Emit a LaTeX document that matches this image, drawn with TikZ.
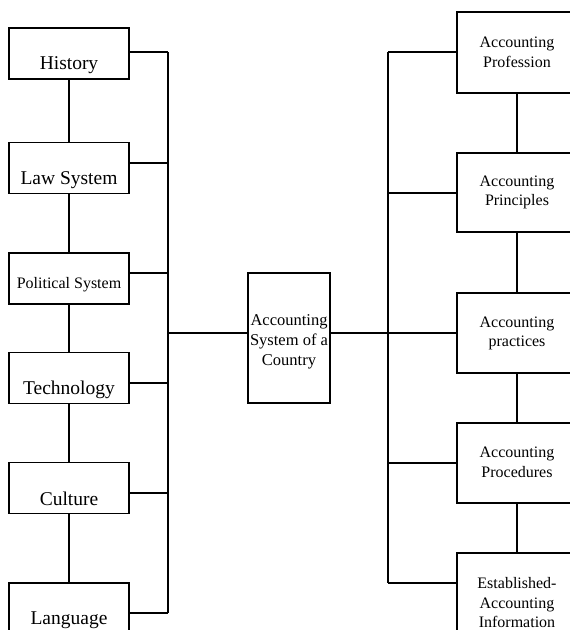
\documentclass[tikz,border=0pt]{standalone}
\usepackage{fontspec}
\setmainfont{Liberation Serif}
\begin{document}
\begin{tikzpicture}[x=1pt,y=-1pt,
  every path/.style={line width=1.4pt},
  lbox/.style={draw,line width=1.4pt,minimum width=120pt,minimum height=51pt,inner sep=0pt},
  rbox/.style={draw,line width=1.4pt,minimum width=120pt,minimum height=80pt,inner sep=0pt},
  bigtxt/.style={font=\fontsize{19.5}{22}\selectfont,inner sep=0pt},
  smtxt/.style={font=\fontsize{16}{19.5}\selectfont,inner sep=0pt,align=center},
  conn/.style={draw,line width=1.4pt}]
\useasboundingbox (0,0) rectangle (570,630);
\fill[white] (0,0) rectangle (570,630);
% left column boxes
\node[lbox] (hist) at (69,53.5) {};
\node[lbox] (law) at (69,168) {};
\node[lbox] (pol) at (69,278.5) {};
\node[lbox] (tech) at (69,378) {};
\node[lbox] (cult) at (69,488) {};
\node[lbox,minimum height=70pt] (lang) at (69,618) {};
\node[bigtxt] (thist) at (69,65) {History};
\node[bigtxt] (tlaw) at (69,180) {Law System};
\node[smtxt] (tpol) at (69,285) {Political System};
\node[bigtxt] (ttech) at (69,390) {Technology};
\node[bigtxt] (tcult) at (69,499) {Culture};
\node[bigtxt] (tlang) at (69,620) {Language};
% left vertical chain
\draw (hist.south) -- (law.north);
\draw (law.south) -- (pol.north);
\draw (pol.south) -- (tech.north);
\draw (tech.south) -- (cult.north);
\draw (cult.south) -- (lang.north);
% left bus
\coordinate (lb1) at (168,52);
\coordinate (lb2) at (168,163);
\coordinate (lb3) at (168,273);
\coordinate (lb4) at (168,383);
\coordinate (lb5) at (168,493);
\coordinate (lb6) at (168,613);
\coordinate (lbc) at (168,333);
\draw (lb1) -- (lb6);
\draw (hist.east |- lb1) -- (lb1);
\draw (law.east |- lb2) -- (lb2);
\draw (pol.east |- lb3) -- (lb3);
\draw (tech.east |- lb4) -- (lb4);
\draw (cult.east |- lb5) -- (lb5);
\draw (lang.east |- lb6) -- (lb6);
% centre box
\node[draw,line width=1.4pt,minimum width=82pt,minimum height=130pt,inner sep=0pt] (ctr) at (289,338) {};
\node[font=\fontsize{16.5}{20}\selectfont,align=center,inner sep=0pt] (tctr) at (289,342) {Accounting\\System of a\\Country};
\draw (lbc) -- (ctr.west |- lbc);
% right column boxes
\node[rbox,minimum height=81pt] (prof) at (517,52.5) {};
\node[rbox,minimum height=79pt] (prin) at (517,192.5) {};
\node[rbox] (prac) at (517,333) {};
\node[rbox] (proc) at (517,463) {};
\node[rbox,minimum height=100pt] (est) at (517,603) {};
\node[smtxt] (tprof) at (517,52.5) {Accounting\\Profession};
\node[smtxt] (tprin) at (517,192.5) {Accounting\\Principles};
\node[smtxt] (tprac) at (517,333.5) {Accounting\\practices};
\node[smtxt] (tproc) at (517,462.5) {Accounting\\Procedures};
\node[smtxt] (test) at (517,603) {Established-\\Accounting\\Information};
% right vertical chain
\draw (prof.south) -- (prin.north);
\draw (prin.south) -- (prac.north);
\draw (prac.south) -- (proc.north);
\draw (proc.south) -- (est.north);
% right bus
\coordinate (rb1) at (388,52);
\coordinate (rb2) at (388,193);
\coordinate (rb3) at (388,333);
\coordinate (rb4) at (388,463);
\coordinate (rb5) at (388,583);
\draw (rb1) -- (rb5);
\draw (rb1) -- (prof.west |- rb1);
\draw (rb2) -- (prin.west |- rb2);
\draw (ctr.east |- rb3) -- (prac.west |- rb3);
\draw (rb4) -- (proc.west |- rb4);
\draw (rb5) -- (est.west |- rb5);
\end{tikzpicture}
\end{document}
